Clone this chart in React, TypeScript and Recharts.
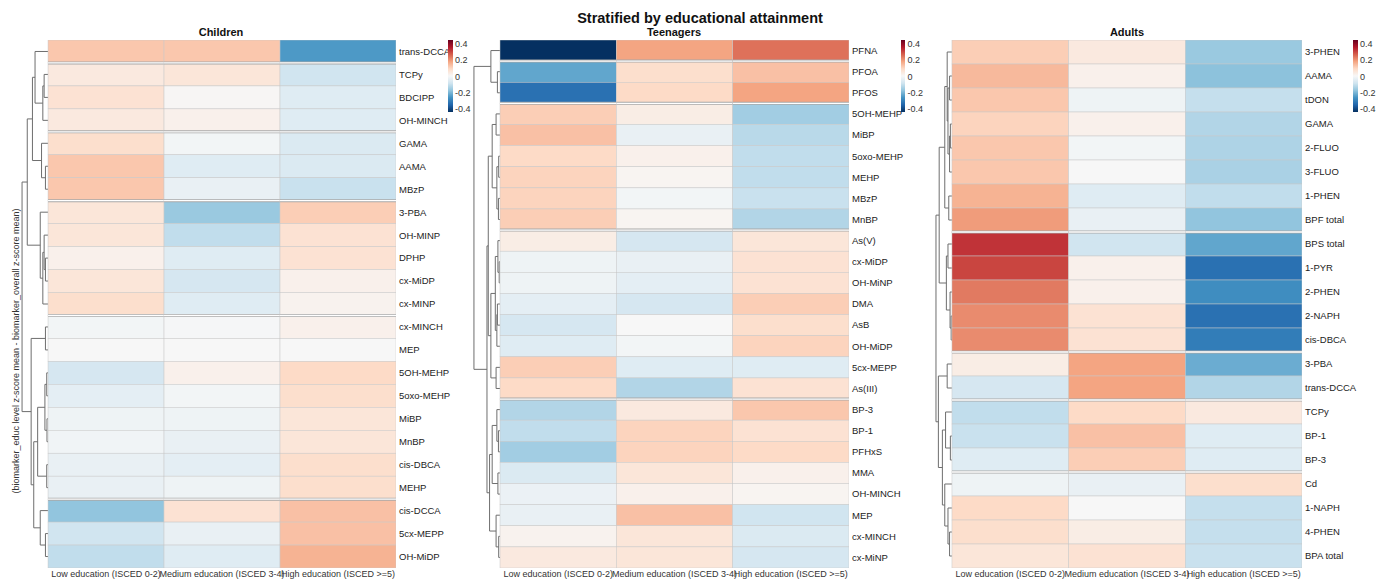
import React from 'react';
import { ScatterChart, Scatter, XAxis, YAxis, ReferenceLine } from 'recharts';

const eduLevels = ['Low education (ISCED 0-2)', 'Medium education (ISCED 3-4)', 'High education (ISCED >=5)'];
const legendTicks = ['0.4', '0.2', '0', '-0.2', '-0.4'];

// Children
const childRows = ['trans-DCCA', 'TCPy', 'BDCIPP', 'OH-MINCH', 'GAMA', 'AAMA', 'MBzP', '3-PBA', 'OH-MINP', 'DPHP', 'cx-MiDP', 'cx-MINP', 'cx-MINCH', 'MEP', '5OH-MEHP', '5oxo-MEHP', 'MiBP', 'MnBP', 'cis-DBCA', 'MEHP', 'cis-DCCA', '5cx-MEPP', 'OH-MiDP'];
const childLow = [0.11, 0.04, 0.06, 0.04, 0.07, 0.11, 0.11, 0.05, 0.05, 0.02, 0.05, 0.07, -0.01, 0.0, -0.07, -0.04, -0.02, -0.015, -0.03, -0.03, -0.16, -0.08, -0.1];
const childMed = [0.11, 0.05, 0.005, 0.02, -0.01, -0.05, -0.03, -0.15, -0.1, -0.05, -0.07, -0.05, -0.005, 0.0, 0.02, -0.01, -0.02, -0.03, -0.04, -0.02, 0.06, -0.03, -0.05];
const childHigh = [-0.23, -0.08, -0.05, -0.05, -0.06, -0.06, -0.09, 0.1, 0.06, 0.06, 0.02, 0.015, 0.02, 0.0, 0.08, 0.07, 0.05, 0.05, 0.07, 0.07, 0.12, 0.12, 0.14];
const childGaps = [1, 4, 7, 12, 20];
// hclust-style merges: negative = leaf (1-based), positive = earlier merge
const childMerges: [number, number, number][] = [
  [-2, -3, 0.15], [1, -4, 0.2], [-1, 2, 0.5], [-6, -7, 0.1], [-5, 4, 0.25], [3, 5, 0.6],
  [-10, -11, 0.1], [-9, 7, 0.15], [8, -12, 0.2], [-8, 9, 0.3], [6, 10, 0.8],
  [-13, -14, 0.1], [-15, -16, 0.05], [-17, -18, 0.04], [13, 14, 0.12], [-19, -20, 0.05],
  [15, 16, 0.4], [-22, -23, 0.1], [-21, 18, 0.3], [17, 19, 0.55], [12, 20, 0.65], [11, 21, 1],
];

// Teenagers
const teenRows = ['PFNA', 'PFOA', 'PFOS', '5OH-MEHP', 'MiBP', '5oxo-MEHP', 'MEHP', 'MBzP', 'MnBP', 'As(V)', 'cx-MiDP', 'OH-MiNP', 'DMA', 'AsB', 'OH-MiDP', '5cx-MEPP', 'As(III)', 'BP-3', 'BP-1', 'PFHxS', 'MMA', 'OH-MINCH', 'MEP', 'cx-MINCH', 'cx-MiNP'];
const teenLow = [-0.4, -0.21, -0.3, 0.1, 0.12, 0.08, 0.09, 0.09, 0.1, 0.03, -0.02, -0.02, -0.04, -0.07, -0.05, 0.1, 0.08, -0.12, -0.1, -0.14, -0.06, -0.025, -0.03, 0.015, 0.04];
const teenMed = [0.16, 0.07, 0.08, 0.03, -0.03, 0.02, 0.01, -0.01, 0.01, -0.07, -0.03, -0.04, -0.07, 0.0, -0.01, -0.05, -0.12, 0.04, 0.09, 0.09, 0.05, 0.02, 0.12, 0.05, 0.05];
const teenHigh = [0.22, 0.12, 0.16, -0.14, -0.11, -0.1, -0.1, -0.09, -0.12, 0.05, 0.06, 0.06, 0.1, 0.07, 0.09, -0.05, 0.06, 0.11, 0.06, 0.08, 0.02, 0.01, -0.08, -0.06, -0.07];
const teenGaps = [1, 3, 9, 17];
const teenMerges: [number, number, number][] = [
  [-2, -3, 0.1], [-1, 1, 0.35], [-4, -5, 0.15], [-6, -7, 0.05], [-8, -9, 0.06], [4, 5, 0.12],
  [3, 6, 0.3], [-11, -12, 0.03], [-10, 8, 0.08], [-13, -14, 0.1], [10, -15, 0.12], [9, 11, 0.18],
  [-16, -17, 0.15], [12, 13, 0.35], [7, 14, 0.45], [-19, -20, 0.06], [-18, 16, 0.12],
  [-21, -22, 0.08], [17, 18, 0.3], [-24, -25, 0.05], [-23, 20, 0.15], [19, 21, 0.4],
  [15, 22, 0.5], [2, 23, 1],
];

// Adults
const adultRows = ['3-PHEN', 'AAMA', 'tDON', 'GAMA', '2-FLUO', '3-FLUO', '1-PHEN', 'BPF total', 'BPS total', '1-PYR', '2-PHEN', '2-NAPH', 'cis-DBCA', '3-PBA', 'trans-DCCA', 'TCPy', 'BP-1', 'BP-3', 'Cd', '1-NAPH', '4-PHEN', 'BPA total'];
const adultLow = [0.1, 0.13, 0.11, 0.09, 0.11, 0.11, 0.14, 0.17, 0.29, 0.27, 0.21, 0.19, 0.19, 0.03, -0.07, -0.1, -0.09, -0.05, -0.02, 0.08, 0.07, 0.05];
const adultMed = [0.04, 0.02, -0.02, 0.02, -0.01, 0.0, -0.05, -0.03, -0.08, 0.02, 0.02, 0.06, 0.06, 0.16, 0.16, 0.08, 0.12, 0.1, -0.03, 0.0, 0.03, 0.06];
const adultHigh = [-0.15, -0.165, -0.095, -0.12, -0.125, -0.13, -0.1, -0.16, -0.21, -0.3, -0.25, -0.3, -0.28, -0.2, -0.12, 0.04, -0.05, -0.05, 0.07, -0.095, -0.095, -0.09];
const adultGaps = [8, 13, 15, 18];
const adultMerges: [number, number, number][] = [
  [-2, -3, 0.15], [-4, -5, 0.1], [2, -6, 0.15], [1, 3, 0.25], [-1, 4, 0.3], [-7, -8, 0.2],
  [5, 6, 0.45], [-9, -10, 0.25], [-12, -13, 0.05], [-11, 9, 0.12], [8, 10, 0.35], [7, 11, 0.8],
  [-14, -15, 0.3], [-17, -18, 0.1], [-16, 14, 0.4], [-21, -22, 0.15], [-20, 16, 0.25],
  [-19, 17, 0.45], [15, 18, 0.6], [13, 19, 0.85], [12, 20, 1],
];

const rdbu = ['#053061', '#2166ac', '#4393c3', '#92c5de', '#d1e5f0', '#f7f7f7', '#fddbc7', '#f4a582', '#d6604d', '#b2182b', '#67001f'];

const CHART_H = 581;
const TOP = 40;
const XAXIS_H = 13;

function heat(v: number): string {
  const t = Math.max(0, Math.min(1, (v + 0.4) / 0.8)) * (rdbu.length - 1);
  const i = Math.min(Math.floor(t), rdbu.length - 2);
  const f = t - i;
  const a = rdbu[i], b = rdbu[i + 1];
  const ch = (s: string, k: number) => parseInt(s.slice(1 + k * 2, 3 + k * 2), 16);
  const c = [0, 1, 2].map((k) => Math.round(ch(a, k) + (ch(b, k) - ch(a, k)) * f));
  return `rgb(${c[0]},${c[1]},${c[2]})`;
}

type Seg = { x1: number; y1: number; x2: number; y2: number };

function dendroSegments(merges: [number, number, number][], s: number): Seg[] {
  const pos: { y: number; h: number }[] = [];
  const segs: Seg[] = [];
  const get = (r: number) => (r < 0 ? { y: -r - 0.5, h: 0 } : pos[r - 1]);
  merges.forEach(([a, b, h]) => {
    const A = get(a), B = get(b);
    segs.push({ x1: -A.h * s, y1: A.y, x2: -h * s, y2: A.y });
    segs.push({ x1: -B.h * s, y1: B.y, x2: -h * s, y2: B.y });
    segs.push({ x1: -h * s, y1: A.y, x2: -h * s, y2: B.y });
    pos.push({ y: (A.y + B.y) / 2, h });
  });
  return segs;
}

interface PanelProps {
  rows: string[];
  low: number[];
  med: number[];
  high: number[];
  merges: [number, number, number][];
  gaps: number[];
  left: number;
  width: number;
  marginLeft: number;
  dMin: number;
  treeScale: number;
  axisW: number;
}

function Panel({ rows, low, med, high, merges, gaps, left, width, marginLeft, dMin, treeScale, axisW }: PanelProps) {
  const cells: { x: number; y: number; v: number; gapAbove: boolean }[] = [];
  [low, med, high].forEach((vals, c) =>
    vals.forEach((v, r) => cells.push({ x: c + 0.5, y: r + 0.5, v, gapAbove: gaps.includes(r) })),
  );
  const segs = dendroSegments(merges, treeScale);
  const plotW = width - marginLeft - axisW;
  const cellW = plotW / (3 - dMin);
  const cellH = (CHART_H - TOP - XAXIS_H) / rows.length;
  const rowTicks = rows.map((_, i) => i + 0.5);

  const CellShape = (p: any) => {
    const x0 = p.cx - cellW / 2;
    const y0 = p.cy - cellH / 2;
    return (
      <g>
        <rect x={x0} y={y0} width={cellW} height={cellH} fill={heat(p.payload.v)} stroke="#c8c8c8" strokeWidth={0.5} />
        {p.payload.gapAbove && (
          <>
            <line x1={x0} x2={x0 + cellW} y1={y0} y2={y0} stroke="#a8a8a8" strokeWidth={3} />
            <line x1={x0} x2={x0 + cellW} y1={y0} y2={y0} stroke="#ffffff" strokeWidth={1.3} />
          </>
        )}
      </g>
    );
  };

  return (
    <div style={{ position: 'absolute', left, top: 0 }}>
      <ScatterChart width={width} height={CHART_H} margin={{ top: TOP, right: 0, bottom: 0, left: marginLeft }}>
        <XAxis
          type="number"
          dataKey="x"
          domain={[dMin, 3]}
          allowDataOverflow
          ticks={[0.5, 1.5, 2.5]}
          interval={0}
          tickFormatter={(v: number) => eduLevels[Math.floor(v)]}
          tick={{ fontSize: 9, fill: '#333' }}
          axisLine={false}
          tickLine={false}
          tickSize={0}
          tickMargin={3}
          height={XAXIS_H}
        />
        <YAxis
          type="number"
          dataKey="y"
          domain={[0, rows.length]}
          reversed
          allowDataOverflow
          orientation="right"
          width={axisW}
          ticks={rowTicks}
          interval={0}
          tickFormatter={(v: number) => rows[Math.floor(v)]}
          tick={{ fontSize: 9.5, fill: '#222' }}
          axisLine={false}
          tickLine={false}
          tickSize={0}
          tickMargin={3}
        />
        <Scatter data={cells} shape={CellShape} isAnimationActive={false} />
        {segs.map((s, i) => (
          <ReferenceLine
            key={`d${i}`}
            segment={[{ x: s.x1, y: s.y1 }, { x: s.x2, y: s.y2 }]}
            stroke="#6e6e6e"
            strokeWidth={1}
            ifOverflow="visible"
          />
        ))}
      </ScatterChart>
    </div>
  );
}

function ColorBar({ x }: { x: number }) {
  const grad = `linear-gradient(to bottom, ${[...rdbu].reverse().join(', ')})`;
  return (
    <>
      <div style={{ position: 'absolute', left: x, top: 40, width: 4.5, height: 72, background: grad }} />
      {legendTicks.map((t, i) => (
        <div
          key={t}
          style={{
            position: 'absolute',
            left: x + 7,
            top: 44 + i * 16.3 - 6,
            fontSize: 9,
            lineHeight: '12px',
            color: '#333',
          }}
        >
          {t}
        </div>
      ))}
    </>
  );
}

const titleStyle: React.CSSProperties = {
  position: 'absolute',
  fontWeight: 'bold',
  fontSize: 11,
  color: '#111',
  transform: 'translate(-50%, -50%)',
  whiteSpace: 'nowrap',
};

export default function App() {
  return (
    <div
      style={{
        position: 'absolute',
        left: 0,
        top: 0,
        width: 1385,
        height: 581,
        background: '#fff',
        fontFamily: '"Liberation Sans", Arial, sans-serif',
        overflow: 'hidden',
      }}
    >
      <Panel rows={childRows} low={childLow} med={childMed} high={childHigh} merges={childMerges} gaps={childGaps}
        left={0} width={460} marginLeft={8.6} dMin={-0.34} treeScale={0.224} axisW={64} />
      <Panel rows={teenRows} low={teenLow} med={teenMed} high={teenHigh} merges={teenMerges} gaps={teenGaps}
        left={460} width={480} marginLeft={5.1} dMin={-0.3} treeScale={0.224} axisW={91} />
      <Panel rows={adultRows} low={adultLow} med={adultMed} high={adultHigh} merges={adultMerges} gaps={adultGaps}
        left={930} width={455} marginLeft={3.3} dMin={-0.16} treeScale={0.137} axisW={83} />

      <ColorBar x={448} />
      <ColorBar x={900.5} />
      <ColorBar x={1353} />

      <div style={{ ...titleStyle, left: 700, top: 18, fontSize: 14.5 }}>Stratified by educational attainment</div>
      <div style={{ ...titleStyle, left: 221, top: 32 }}>Children</div>
      <div style={{ ...titleStyle, left: 674, top: 32 }}>Teenagers</div>
      <div style={{ ...titleStyle, left: 1127, top: 32 }}>Adults</div>

      <div
        style={{
          position: 'absolute',
          left: 16,
          top: 351,
          fontSize: 9,
          color: '#333',
          whiteSpace: 'nowrap',
          transform: 'translate(-50%, -50%) rotate(-90deg)',
        }}
      >
        (biomarker_educ level z-score mean - biomarker_overall z-score mean)
      </div>
    </div>
  );
}
